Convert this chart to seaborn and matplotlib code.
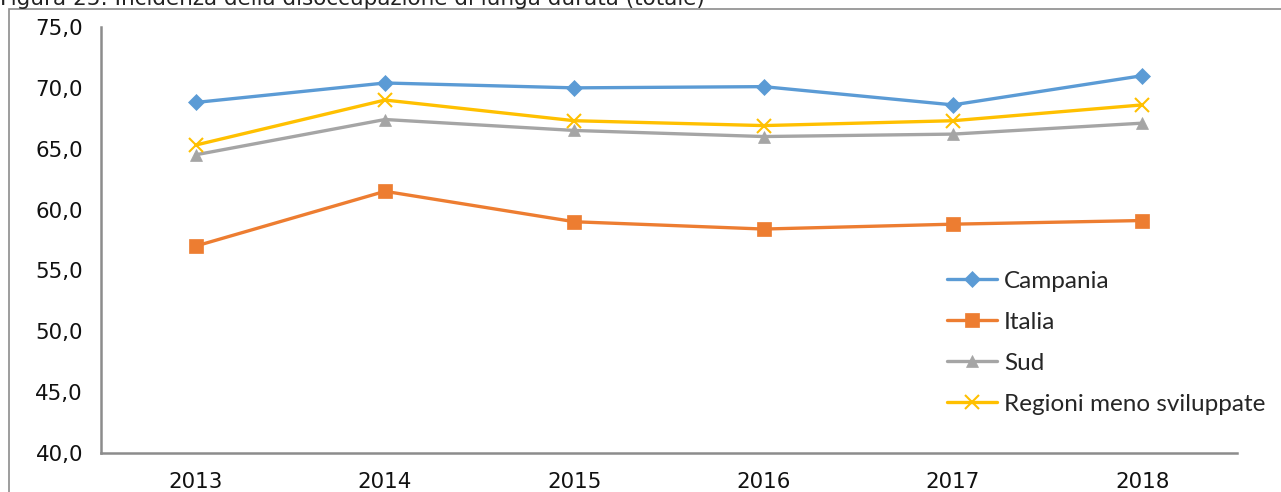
import matplotlib.pyplot as plt
import seaborn as sns
import pandas as pd
from matplotlib.patches import Rectangle
from matplotlib.ticker import FixedLocator, FuncFormatter

years = ["2013", "2014", "2015", "2016", "2017", "2018"]
campania = [68.8, 70.4, 70.0, 70.1, 68.6, 71.0]
italia = [57.0, 61.5, 59.0, 58.4, 58.8, 59.1]
sud = [64.5, 67.4, 66.5, 66.0, 66.2, 67.1]
regioni = [65.3, 69.0, 67.3, 66.9, 67.3, 68.6]

series = ["Campania", "Italia", "Sud", "Regioni meno sviluppate"]
colors = ["#5B9BD5", "#ED7D31", "#A5A5A5", "#FFC000"]
markers = ["D", "s", "^", "x"]
msizes = [8, 10, 9, 10]

df = pd.DataFrame({
    "anno": years * 4,
    "valore": campania + italia + sud + regioni,
    "serie": [s for s in series for _ in years],
})

sns.set_style("white")
plt.rcParams["font.family"] = ["DejaVu Sans"]

fig = plt.figure(figsize=(12.81, 4.92), dpi=100)
ax = fig.add_axes([101 / 1281, 1 - 453 / 492, (1237 - 101) / 1281, (453 - 27) / 492])

# outer chart-area border (Excel style)
fig.patches.append(Rectangle((9 / 1281, -0.1), 1.2, 1 - 9 / 492 + 0.1, transform=fig.transFigure,
                             fill=False, edgecolor="#8c8c8c", linewidth=1.2))
# title sits partly above the page edge, as in the source image
fig.text(0.0, 1 - 5 / 492, "Figura 25: Incidenza della disoccupazione di lunga durata (totale)",
         fontsize=15.5, va="baseline", ha="left", color="#222222")

for name, col, mk, ms in zip(series, colors, markers, msizes):
    sub = df[df["serie"] == name]
    sns.lineplot(data=sub, x="anno", y="valore", ax=ax, color=col, marker=mk,
                 markersize=ms, markeredgecolor=col, markeredgewidth=1.5 if mk == "x" else 0.5,
                 linewidth=2.4, label=name, sort=False)

ax.set_xlim(-0.5, 5.5)
ax.set_ylim(40, 75)
ax.set_yticks([40, 45, 50, 55, 60, 65, 70, 75])
ax.yaxis.set_major_formatter(FuncFormatter(lambda v, p: f"{v:.1f}".replace(".", ",")))
ax.set_xticks(range(len(years)))
ax.set_xticklabels(years)
ax.xaxis.set_minor_locator(FixedLocator([i - 0.5 for i in range(len(years) + 1)]))
ax.tick_params(axis="x", which="major", length=0, pad=14, labelsize=15.4, labelcolor="#111111")
ax.tick_params(axis="x", which="minor", length=7, width=1, color="#8c8c8c", direction="out")
ax.tick_params(axis="y", length=7, width=1, color="#8c8c8c", direction="out", pad=6,
               labelsize=15.4, labelcolor="#111111")
ax.set_xlabel("")
ax.set_ylabel("")
for s in ["top", "right"]:
    ax.spines[s].set_visible(False)
for s in ["left", "bottom"]:
    ax.spines[s].set_color("#8c8c8c")
    ax.spines[s].set_linewidth(1.8)
ax.grid(False)

leg = ax.legend(loc="upper left", bbox_to_anchor=(937 / 1281, 1 - 261 / 492),
                bbox_transform=fig.transFigure, frameon=False, handlelength=2.05,
                handletextpad=0.3, labelspacing=0.82, borderaxespad=0,
                prop={"family": "Lato", "size": 17.5})

fig.savefig("out.png", dpi=100)
